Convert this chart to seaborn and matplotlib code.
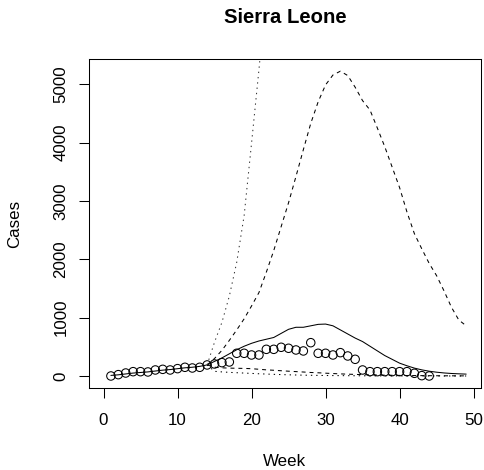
import matplotlib
matplotlib.use("Agg")
import matplotlib.pyplot as plt
import seaborn as sns
import pandas as pd

# ---- data ----
obs_weeks = list(range(1, 45))
obs_cases = [0, 23, 51, 74, 74, 69, 103, 114, 103, 126, 149, 137, 149, 189,
             206, 229, 240, 389, 389, 360, 360, 457, 457, 492, 475, 446, 429,
             571, 389, 389, 360, 400, 343, 286, 103, 74, 74, 74, 74, 74, 74,
             46, 6, 0]

fit_weeks = list(range(1, 50))
fit_cases = [10, 20, 35, 50, 60, 70, 85, 100, 110, 125, 140, 150, 165, 190,
             250, 310, 380, 450, 510, 560, 600, 630, 660, 730, 800, 835, 835,
             860, 885, 890, 860, 790, 720, 650, 590, 510, 430, 350, 285, 220,
             175, 135, 105, 82, 65, 52, 43, 37, 32]

proj_weeks = list(range(14, 50))
upper_dashed = [190, 300, 440, 610, 790, 980, 1200, 1430, 1780, 2150, 2560,
                2970, 3420, 3880, 4330, 4700, 4990, 5160, 5225, 5150, 4950,
                4720, 4560, 4250, 3930, 3580, 3230, 2810, 2440, 2180, 1930,
                1720, 1460, 1180, 960, 860]
lower_dashed = [190, 150, 140, 135, 132, 130, 125, 115, 105, 98, 90, 82, 75,
                68, 60, 55, 48, 42, 36, 31, 27, 23, 20, 17, 14, 12, 10, 8, 7,
                6, 5, 4, 3, 3, 2, 2]
lower_dotted = [190, 80, 70, 62, 56, 50, 44, 38, 33, 28, 24, 20, 17, 14, 12,
                10, 8, 7, 6, 5, 4, 3, 3, 2, 2, 2, 1, 1, 1, 1, 1, 1, 0, 0, 0, 0]

steep_weeks = list(range(14, 23))
upper_dotted = [190, 580, 920, 1370, 1950, 2750, 3990, 5250, 6600]

x_ticks = [0, 10, 20, 30, 40, 50]
y_ticks = [0, 1000, 2000, 3000, 4000, 5000]

# ---- style ----
sns.set_style("white")
plt.rcParams['font.family'] = ['Liberation Sans', 'DejaVu Sans']
plt.rcParams.update({"text.color": "black", "axes.labelcolor": "black",
                     "xtick.color": "black", "ytick.color": "black",
                     "axes.edgecolor": "black"})
FS = 12.2

fig = plt.figure(figsize=(4.85, 4.70), dpi=100)
ax = fig.add_axes([89 / 485, 1 - 388 / 470, (480.7 - 89) / 485, (388 - 59) / 470])

lw = 0.75
dash = (0, (3.8, 3.8))
dot = (0, (1.3, 3.8))

sns.lineplot(x=fit_weeks, y=fit_cases, ax=ax, color="black", linewidth=lw)
sns.lineplot(x=proj_weeks, y=upper_dashed, ax=ax, color="black", linewidth=lw, linestyle=dash)
sns.lineplot(x=proj_weeks, y=lower_dashed, ax=ax, color="black", linewidth=lw, linestyle=dash)
sns.lineplot(x=proj_weeks, y=lower_dotted, ax=ax, color="black", linewidth=lw, linestyle=dot)
sns.lineplot(x=steep_weeks, y=upper_dotted, ax=ax, color="#333333", linewidth=lw, linestyle=dot)
sns.scatterplot(x=obs_weeks, y=obs_cases, ax=ax, s=37, facecolor="none",
                edgecolor="black", linewidth=0.75, zorder=3)

ax.set_xlim(-1.96, 50.96)
ax.set_ylim(-206, 5434)
ax.set_xticks(x_ticks)
ax.set_yticks(y_ticks)
ax.set_xticklabels([str(v) for v in x_ticks], fontsize=FS)
ax.set_yticklabels([str(v) for v in y_ticks], fontsize=FS, rotation=90, va="center")

for s in ax.spines.values():
    s.set_visible(True)
    s.set_color("black")
    s.set_linewidth(0.75)

ax.tick_params(axis="both", direction="out", length=7.2, width=0.75, color="black",
               labelcolor="black", bottom=True, left=True, top=False, right=False)
ax.tick_params(axis="x", pad=10.5)
ax.tick_params(axis="y", pad=7.5)

ax.set_xlabel("Week", fontsize=FS, va="center", color="black")
ax.xaxis.set_label_coords(0.5, (388 - 461) / 329)
ax.set_ylabel("Cases", fontsize=FS, va="center", color="black")
ax.yaxis.set_label_coords((15 - 89) / 391.7, 0.5)
ax.set_title("Sierra Leone", fontsize=14.6, fontweight="bold", y=(388 - 18) / 329,
             va="center", pad=0, color="black")

fig.savefig("out.png", dpi=100)
